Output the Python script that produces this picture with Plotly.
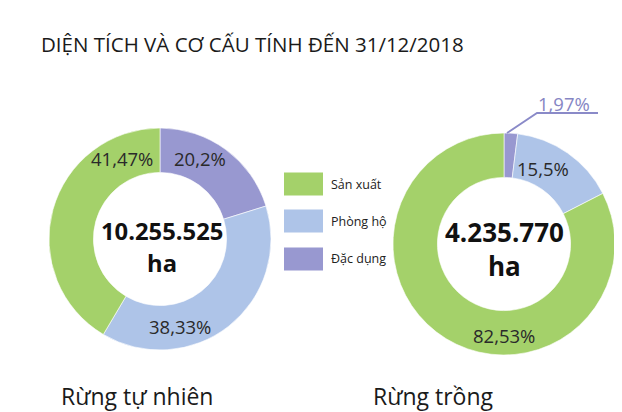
import plotly.graph_objects as go

W, H = 622, 412
OFF = 8  # page body margin offset

categories = ["Đặc dụng", "Phòng hộ", "Sản xuất"]
legend_order = ["Sản xuất", "Phòng hộ", "Đặc dụng"]
natural_pct = [20.2, 38.33, 41.47]
planted_pct = [1.97, 15.5, 82.53]
natural_total = 10255525
planted_total = 4235770
group_names = ["Rừng tự nhiên", "Rừng trồng"]
title_text = "DIỆN TÍCH VÀ CƠ CẤU TÍNH ĐẾN 31/12/2018"

colors = {"Sản xuất": "#a4d16a", "Phòng hộ": "#aec4e8", "Đặc dụng": "#9898d0"}
FONT = "Open Sans"


def px(x):
    return (x - OFF) / W


def py(y):
    return 1 - (y - OFF) / H


def fmt_pct(v):
    return f"{v:g}".replace(".", ",") + "%"


def fmt_total(v):
    return f"{v:,}".replace(",", ".")


fig = go.Figure()

pie_common = dict(
    sort=False,
    direction="clockwise",
    rotation=0,
    hole=0.6,
    textinfo="none",
    showlegend=False,
    marker=dict(colors=[colors[c] for c in categories], line=dict(color="white", width=0.6)),
)

fig.add_trace(go.Pie(labels=categories, values=natural_pct,
                     domain=dict(x=[px(49), px(271)], y=[py(350), py(128)]), **pie_common))
fig.add_trace(go.Pie(labels=categories, values=planted_pct,
                     domain=dict(x=[px(393), px(615)], y=[py(355), py(133)]), **pie_common))

ann = []


def add_text(text, x, y, size, color="#2a2a2a", bold=False, xanchor="center"):
    if bold:
        text = f"<b>{text}</b>"
    ann.append(dict(text=text, x=px(x), y=py(y), xref="paper", yref="paper",
                    showarrow=False, xanchor=xanchor, yanchor="middle",
                    font=dict(family=FONT, size=size, color=color)))


# title
add_text(title_text, 39, 44, 20.5, color="#1a1a1a", xanchor="left")

# left donut labels (Đặc dụng, Phòng hộ, Sản xuất)
left_pos = [(200, 158), (180, 326), (122, 158)]
for v, (x, y) in zip(natural_pct, left_pos):
    add_text(fmt_pct(v), x, y, 18.5)

# right donut labels
add_text(fmt_pct(planted_pct[1]), 543, 168, 18.5)
add_text(fmt_pct(planted_pct[2]), 504, 335, 18.5)
add_text(fmt_pct(planted_pct[0]), 564, 103, 18.5, color="#8686c4")

# center totals
add_text(fmt_total(natural_total), 162, 231, 23.8, color="#111111", bold=True)
add_text("ha", 162, 263, 23.8, color="#111111", bold=True)
add_text(fmt_total(planted_total), 504, 232, 26, color="#111111", bold=True)
add_text("ha", 504, 266, 26, color="#111111", bold=True)

# group names
add_text(group_names[0], 59, 396, 23, color="#1a1a1a", xanchor="left")
add_text(group_names[1], 371, 396, 23, color="#1a1a1a", xanchor="left")

# legend
shapes = []
legend_y = [184, 221, 259]
for name, y in zip(legend_order, legend_y):
    shapes.append(dict(type="rect", xref="paper", yref="paper",
                       x0=px(284), x1=px(323), y0=py(y + 11.5), y1=py(y - 11.5),
                       fillcolor=colors[name], line=dict(width=0)))
    add_text(name, 329, y, 12.5, color="#222222", xanchor="left")

# leader line for 1,97%
shapes.append(dict(type="path", xref="paper", yref="paper",
                   path=f"M {px(507)} {py(133)} L {px(537)} {py(113)} L {px(598)} {py(113)}",
                   line=dict(color="#8a8ac8", width=1.8)))

fig.update_layout(
    width=W, height=H,
    margin=dict(l=0, r=0, t=0, b=0),
    paper_bgcolor="white", plot_bgcolor="white",
    annotations=ann, shapes=shapes,
)

fig.write_html("out.html")
